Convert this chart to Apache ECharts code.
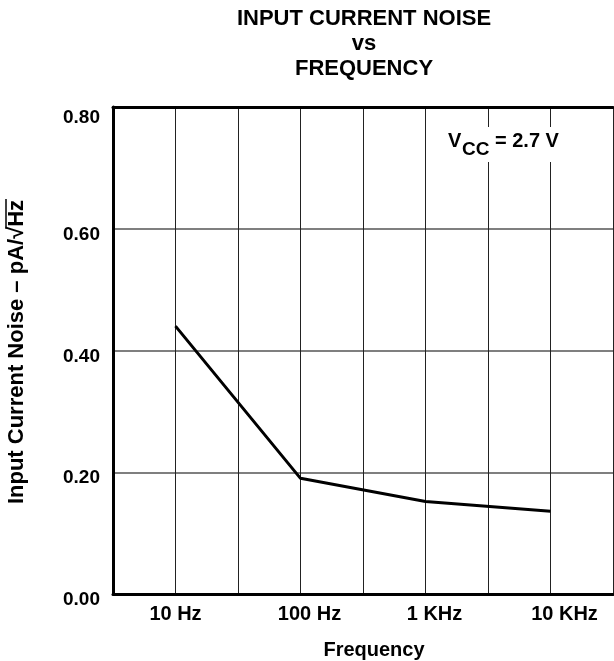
<!DOCTYPE html>
<html>
<head>
<meta charset="utf-8">
<script src="https://cdn.jsdelivr.net/npm/echarts@6/dist/echarts.min.js"></script>
<style>html,body{margin:0;padding:0;background:#fff}#c{width:614px;height:661px}</style>
</head>
<body>
<div id="c"></div>
<script>
// Data
const frequenciesHz = [10, 100, 1000, 10000];
const noisePaRtHz = [0.44, 0.19, 0.152, 0.136];
const xTickLabels = {1: '10 Hz', 2: '100 Hz', 3: '1 KHz', 4: '10 KHz'};
const yTicks = [0, 0.2, 0.4, 0.6, 0.8];

const FONT = '"Liberation Sans", Arial, sans-serif';
const chart = echarts.init(document.getElementById('c'), null, {renderer: 'canvas'});

const seriesData = frequenciesHz.map((f, i) => [Math.log10(f), noisePaRtHz[i]]);

// y-axis name with radical overline
const yName = 'Input Current Noise \u2013 pA/\u221AHz';
const NAME_FS = 22;
const cv = document.createElement('canvas').getContext('2d');
cv.font = 'bold ' + NAME_FS + 'px ' + FONT;
const W = cv.measureText(yName).width;
const wHz = cv.measureText('Hz').width;
const nameCx = 17, nameCy = 352;

const xLabelStyle = {fontFamily: FONT, fontWeight: 'bold', fontSize: 20, color: '#000'};
const yLabelStyle = {fontFamily: FONT, fontWeight: 'bold', fontSize: 19, color: '#000'};

const option = {
  animation: false,
  backgroundColor: '#fff',
  title: {
    text: 'INPUT CURRENT NOISE\nvs\nFREQUENCY',
    left: 359, top: 1, textAlign: 'center',
    textStyle: {fontFamily: FONT, fontWeight: 'bold', fontSize: 22, color: '#000', lineHeight: 25}
  },
  grid: {left: 113, right: 1, top: 107, bottom: 67, containLabel: false, outerBoundsMode: 'none'},
  xAxis: [{
    type: 'value', min: 0.5, max: 4.5, interval: 0.5,
    axisLine: {show: true, lineStyle: {color: '#000', width: 3}},
    axisTick: {show: false},
    splitLine: {show: true, lineStyle: {color: '#222', width: 1}},
    axisLabel: {
      ...xLabelStyle, margin: 10,
      formatter: v => {
        const k = Math.round(v * 2) / 2;
        const t = xTickLabels[k];
        if (!t) return '';
        const s = k === 1 ? 'a' : (k === 4 ? 'c' : 'b');
        return '{' + s + '|' + t + '}';
      },
      rich: {
        a: {...xLabelStyle},
        b: {...xLabelStyle, padding: [0, 0, 0, 18]},
        c: {...xLabelStyle, padding: [0, 0, 0, 28]}
      }
    },
    name: 'Frequency', nameLocation: 'middle', nameGap: 46,
    nameTextStyle: {...xLabelStyle, padding: [0, 0, 0, 22]}
  }, {
    type: 'value', position: 'top', min: 0.5, max: 4.5, interval: 0.5,
    axisLine: {show: true, lineStyle: {color: '#000', width: 3}},
    axisTick: {show: false}, axisLabel: {show: false}, splitLine: {show: false}
  }],
  yAxis: {
    type: 'value', min: 0, max: 0.8, interval: 0.2,
    axisLine: {show: true, lineStyle: {color: '#000', width: 3}},
    axisTick: {show: false},
    splitLine: {show: true, lineStyle: {color: '#555', width: 1.5}},
    axisLabel: {
      ...yLabelStyle, margin: 13,
      verticalAlign: 'top', lineHeight: 12,
      formatter: v => (v > 0.79 ? '{t|' : '{n|') + v.toFixed(2) + '}',
      rich: {
        n: {...yLabelStyle, lineHeight: 12},
        t: {...yLabelStyle, lineHeight: 12, padding: [10, 0, 0, 0]}
      }
    }
  },
  graphic: [
    {
      type: 'text', x: nameCx, y: nameCy, rotation: Math.PI / 2,
      style: {text: yName, font: 'bold ' + NAME_FS + 'px ' + FONT, fill: '#000', align: 'center', verticalAlign: 'middle'}
    },
    {
      type: 'line',
      shape: {x1: nameCx - 11, y1: nameCy - W / 2 - 1, x2: nameCx - 11, y2: nameCy - W / 2 + wHz + 2},
      style: {stroke: '#000', lineWidth: 1.5}
    },
    {
      type: 'rect', shape: {x: 444, y: 127, width: 124, height: 35},
      style: {fill: '#fff'}, z: 10
    },
    {
      type: 'text', x: 448, y: 141, z: 11,
      style: {text: 'V', font: 'bold 20px ' + FONT, fill: '#000', verticalAlign: 'middle'}
    },
    {
      type: 'text', x: 462, y: 150, z: 11,
      style: {text: 'CC', font: 'bold 19px ' + FONT, fill: '#000', verticalAlign: 'middle'}
    },
    {
      type: 'text', x: 495, y: 141, z: 11,
      style: {text: '= 2.7 V', font: 'bold 20px ' + FONT, fill: '#000', verticalAlign: 'middle'}
    }
  ],
  series: [{
    type: 'line', data: seriesData, showSymbol: false, symbol: 'none',
    lineStyle: {color: '#000', width: 3}, z: 5
  }]
};
chart.setOption(option);
</script>
</body>
</html>
